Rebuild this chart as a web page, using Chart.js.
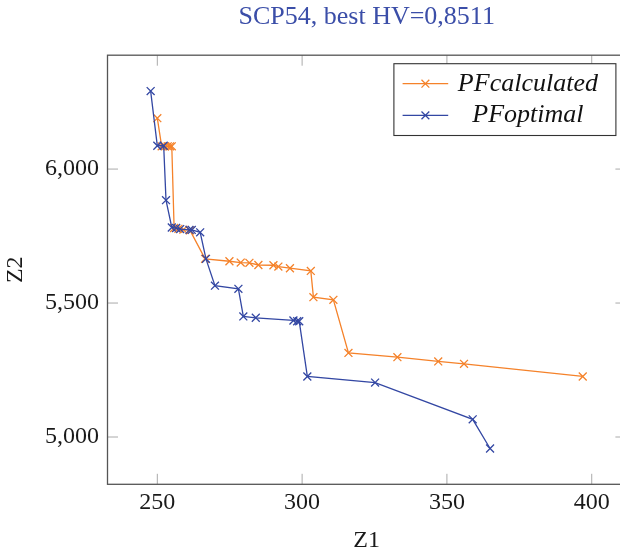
<!DOCTYPE html>
<html><head><meta charset="utf-8">
<script src="https://cdn.jsdelivr.net/npm/chart.js@4.4.1/dist/chart.umd.min.js"></script>
<style>html,body{margin:0;padding:0;overflow:hidden;background:#fff}canvas{display:block}</style>
</head><body>
<canvas id="c" width="640" height="555" style="width:640px;height:555px"></canvas>
<script>
const titleText = 'SCP54, best HV=0,8511';
const xAxisTitle = 'Z1';
const yAxisTitle = 'Z2';
const seriesNames = ['PFcalculated', 'PFoptimal'];

const calcZ1 = [250.0, 251.5, 252.7, 253.6, 254.4, 255.0, 255.8, 257.3, 259.0, 261.3, 266.5, 274.9, 278.8, 281.8, 284.9, 290.1, 291.8, 295.8, 303.0, 303.9, 310.8, 316.0, 332.9, 347.0, 355.9, 396.9];
const calcZ2 = [6190, 6085, 6085, 6085, 6085, 6085, 5780, 5777, 5774, 5771, 5665, 5656, 5651, 5650, 5642, 5641, 5636, 5630, 5620, 5522, 5512, 5314, 5298, 5282, 5273, 5226];

const optZ1 = [247.7, 250.0, 252.2, 253.0, 255.0, 256.5, 257.9, 261.1, 261.9, 264.8, 266.8, 269.9, 278.0, 279.7, 284.0, 297.0, 298.3, 299.0, 301.8, 325.2, 358.9, 364.9];
const optZ2 = [6291, 6087, 6087, 5884, 5782, 5780, 5776, 5773, 5773, 5764, 5665, 5565, 5553, 5450, 5445, 5435, 5432, 5432, 5226, 5203, 5066, 4957];

const xTicks = [250, 300, 350, 400];
const yTicks = [5000, 5500, 6000];

const ORANGE = '#f5822a';
const BLUE = '#3347a3';
const FONT = "'Liberation Serif', 'Times New Roman', serif";

function pts(xs, ys) { return xs.map((x, i) => ({x: x, y: ys[i]})); }

const framePlugin = {
  id: 'frameTicks',
  afterDraw(chart) {
    const ctx = chart.ctx;
    const a = chart.chartArea;
    const xs = chart.scales.x, ys = chart.scales.y;
    const L = 10.5;
    ctx.save();
    ctx.strokeStyle = '#aaaaaa';
    ctx.lineWidth = 1;
    xTicks.forEach(v => {
      const px = xs.getPixelForValue(v);
      ctx.beginPath();
      ctx.moveTo(px, a.bottom); ctx.lineTo(px, a.bottom - L);
      ctx.moveTo(px, a.top); ctx.lineTo(px, a.top + L);
      ctx.stroke();
    });
    yTicks.forEach(v => {
      const py = ys.getPixelForValue(v);
      ctx.beginPath();
      ctx.moveTo(a.left, py); ctx.lineTo(a.left + L, py);
      ctx.moveTo(a.right, py); ctx.lineTo(a.right - L, py);
      ctx.stroke();
    });
    ctx.strokeStyle = '#555555';
    ctx.lineWidth = 1.3;
    ctx.strokeRect(a.left, a.top, a.right - a.left, a.bottom - a.top);

    // legend
    const bx0 = a.right - 232, by0 = a.top + 8.5, bx1 = a.right - 10, by1 = a.top + 80.3;
    ctx.fillStyle = '#ffffff';
    ctx.fillRect(bx0, by0, bx1 - bx0, by1 - by0);
    ctx.strokeStyle = '#333333';
    ctx.lineWidth = 1.1;
    ctx.strokeRect(bx0, by0, bx1 - bx0, by1 - by0);
    const rows = [by0 + 20, by0 + 51.7];
    chart.data.datasets.forEach((ds, i) => {
      const cy = rows[i];
      const lx0 = bx0 + 8.7, lx1 = bx0 + 54.3, mx = (lx0 + lx1) / 2;
      ctx.strokeStyle = ds.borderColor;
      ctx.lineWidth = 1.3;
      ctx.beginPath(); ctx.moveTo(lx0, cy); ctx.lineTo(lx1, cy); ctx.stroke();
      const r = 3.9;
      ctx.beginPath();
      ctx.moveTo(mx - r, cy - r); ctx.lineTo(mx + r, cy + r);
      ctx.moveTo(mx - r, cy + r); ctx.lineTo(mx + r, cy - r);
      ctx.stroke();
      ctx.fillStyle = '#111111';
      ctx.font = "italic 26px " + FONT;
      ctx.textAlign = 'center';
      ctx.textBaseline = 'middle';
      ctx.fillText(ds.label, bx0 + 134, cy);
    });
    ctx.restore();
  }
};

new Chart(document.getElementById('c'), {
  type: 'line',
  data: {
    datasets: [
      {label: seriesNames[0], data: pts(calcZ1, calcZ2), borderColor: ORANGE, backgroundColor: ORANGE,
       pointBorderColor: ORANGE, borderWidth: 1.3, pointStyle: 'crossRot', pointRadius: 5.6,
       pointBorderWidth: 1.3, fill: false, tension: 0, order: 1},
      {label: seriesNames[1], data: pts(optZ1, optZ2), borderColor: BLUE, backgroundColor: BLUE,
       pointBorderColor: BLUE, borderWidth: 1.3, pointStyle: 'crossRot', pointRadius: 5.6,
       pointBorderWidth: 1.3, fill: false, tension: 0, order: 0}
    ]
  },
  options: {
    responsive: false,
    animation: false,
    devicePixelRatio: 1,
    layout: {padding: {left: 0, right: 14.1, top: 0, bottom: 0}},
    plugins: {
      legend: {display: false},
      tooltip: {enabled: false},
      title: {
        display: true, text: titleText, color: '#3b4ea8', fullSize: false,
        font: {family: FONT, size: 26, weight: 'normal'}, padding: {top: 2, bottom: 22}
      }
    },
    scales: {
      x: {
        type: 'linear', min: 232.8, max: 411.8,
        afterBuildTicks: s => { s.ticks = xTicks.map(v => ({value: v})); },
        afterFit: s => { s.height = 70.7; },
        grid: {display: false, drawTicks: false},
        border: {display: false},
        ticks: {color: '#1a1a1a', padding: 4, font: {family: FONT, size: 24}, maxRotation: 0,
                callback: v => String(v)},
        title: {display: true, text: xAxisTitle, color: '#1a1a1a', font: {family: FONT, size: 24},
                padding: {top: 0, bottom: 0}}
      },
      y: {
        type: 'linear', min: 4823.5, max: 6425,
        afterBuildTicks: s => { s.ticks = yTicks.map(v => ({value: v})); },
        afterFit: s => { s.width = 107.5; },
        grid: {display: false, drawTicks: false},
        border: {display: false},
        ticks: {color: '#1a1a1a', padding: 8.5, font: {family: FONT, size: 24},
                callback: v => v.toLocaleString('en-US')},
        title: {display: true, text: yAxisTitle, color: '#1a1a1a', font: {family: FONT, size: 24},
                padding: {top: 1.6, bottom: 0}}
      }
    }
  },
  plugins: [framePlugin]
});
</script>
</body></html>
